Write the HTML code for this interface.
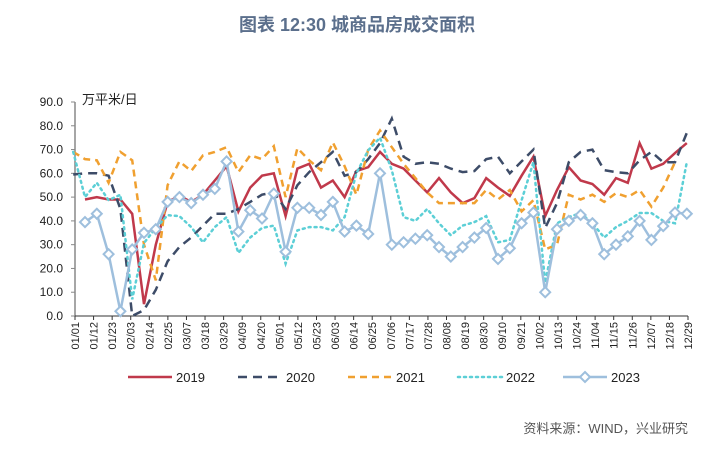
<!DOCTYPE html>
<html><head><meta charset="utf-8"><style>
body{margin:0;background:#fff;}
svg text{font-family:"Liberation Sans","Noto Sans CJK SC",sans-serif;}
</style></head><body>
<svg id="chart" width="713" height="444" xmlns="http://www.w3.org/2000/svg">
<text x="357" y="31" text-anchor="middle" font-size="18" font-weight="bold" fill="#5b6f8c">图表 12:30 城商品房成交面积</text>
<text x="82" y="104" font-size="13" fill="#222">万平米/日</text>
<text x="688" y="433" text-anchor="end" font-size="13" fill="#555">资料来源：WIND，兴业研究</text>
<g id="axes"></g><g id="series"></g><g id="legend"></g>
</svg>
<script>
const xLabels=["01/01","01/12","01/23","02/03","02/14","02/25","03/07","03/18","03/29","04/09","04/20","05/01","05/12","05/23","06/03","06/14","06/25","07/06","07/17","07/28","08/08","08/19","08/30","09/10","09/21","10/02","10/13","10/24","11/04","11/15","11/26","12/07","12/18","12/29"];
const yTicks=[0,10,20,30,40,50,60,70,80,90];
const seriesNames=["2019","2020","2021","2022","2023"];
const s2019=[null,49,50,49,49,43,5,30,48,50.5,48,51,57,63,44,54,59,60,42,62,64,54,57,50,61,62.6,69,64,62,57,52,58,52,47.5,49.6,58,54,50.5,59,67,42,53,62.6,57,55.5,51,58,56,72.7,62,64,68.5,72.7];
const s2020=[59.5,60,60,59,45,0,2.5,11,23,29,33,38,43,43,45,48,51,52,45,55,60.5,64.7,69,59,60.5,66,72.7,83,67,64,64.7,64,62,60.5,61,66,67,60,65,70,37,47.5,64.7,69,70,61.3,60.5,60,65.5,69,64.7,64.7,77];
const s2021=[69,66,65.5,56,69,65.5,30,15,55,65,61,67.6,69,71,60.5,67.6,66,71.4,50,70.6,65.5,61.3,73,63,51,70,78,71,64,58,52,47.5,47.5,47.5,47.5,53,49,53,44,48.7,28,30,51,49,51,48,51.7,50,53,46,54,64.7,null];
const s2022=[69,50,56,48.7,51,7,30.7,37,42.4,42,37.4,31,37.4,41.6,26.5,33,37,38,22,36,37.4,37.4,36,41.6,60,69.7,75,61.3,41.6,40,45,39,34,38,39.5,42,31,32,48.7,64.7,14,39,41.6,43.3,39,33,37.4,40,43.3,43.3,40,39,64.7];
const s2023=[null,39.5,43,26,2,28,35,36.5,48,50,47.5,51,53.5,65,35.5,44.5,41,51.5,27,45.5,45.5,42.5,48,35.5,38,34.5,60,30,31,32.5,34,29,25,29,33,37,24,28.5,39,43.5,10,36.5,40,42.5,39,26,30,33.5,40,32,37.8,43.5,43];
const NS="http://www.w3.org/2000/svg";
const X0=75,X1=688,Y0=316,Y1=102,NPTS=53,PX0=73.2,PXS=11.8;
const yS=v=>Y0-(v/90)*(Y0-Y1);
const xL=i=>X0+i*(X1-X0)/(xLabels.length-1);
const xP=i=>PX0+i*PXS;
function mk(tag,at,parent){const e=document.createElementNS(NS,tag);for(const k in at)e.setAttribute(k,at[k]);parent.appendChild(e);return e;}
const axes=document.getElementById('axes');
let yl=mk('line',{x1:X0,y1:Y1,x2:X0,y2:Y0,stroke:'#888','stroke-width':1.5},axes);


let xl=mk('line',{x1:X0,y1:Y0,x2:X1,y2:Y0,stroke:'#333','stroke-width':1},axes);


yTicks.forEach(v=>{
  mk('line',{x1:X0-4,y1:yS(v),x2:X0,y2:yS(v),stroke:'#888'},axes);
  const t=mk('text',{x:63,y:yS(v)+4,'text-anchor':'end','font-size':12,fill:'#222'},axes);
  t.textContent=v.toFixed(1);
  
  
});
xLabels.forEach((l,i)=>{
  const x=xL(i);
  mk('line',{x1:x,y1:Y0,x2:x,y2:Y0+4,stroke:'#333'},axes);
  const t=mk('text',{x:0,y:0,'text-anchor':'end','font-size':11,fill:'#222',transform:`translate(${x+4},${Y0+6}) rotate(-90)`},axes);
  t.textContent=l;
  
  
});
const styles=[
 {c:'#c0394b',d:'',w:2.5},
 {c:'#3d4c68',d:'9,6',w:2.5},
 {c:'#f0a030',d:'7,5',w:2.5},
 {c:'#5ccfd6',d:'2,4',w:2.5},
 {c:'#9ebfdd',d:'',w:2.5}];
const data=[s2019,s2020,s2021,s2022,s2023];
const sg=document.getElementById('series');
data.forEach((arr,k)=>{
  let d='',pen=false;
  arr.forEach((v,i)=>{if(v==null){return;}d+=(pen?'L':'M')+xP(i).toFixed(1)+','+yS(v).toFixed(1);pen=true;});
  const st=styles[k];
  const p=mk('path',{d:d,fill:'none',stroke:st.c,'stroke-width':st.w,'stroke-dasharray':st.d,'stroke-linecap':k==3?'round':'butt'},sg);
  
  
  if(k==4){arr.forEach((v,i)=>{if(v==null)return;const x=xP(i),y=yS(v);
    const m=mk('polygon',{points:`${x},${y-5} ${x+5},${y} ${x},${y+5} ${x-5},${y}`,fill:'#fff',stroke:st.c,'stroke-width':2},sg);
    
    });}
});
const lg=document.getElementById('legend');
const lx=[128,238,348,458,563];
seriesNames.forEach((n,k)=>{
  const st=styles[k],x=lx[k],y=377;
  const g=mk('g',{},lg);
  
  
  mk('line',{x1:x,y1:y,x2:x+44,y2:y,stroke:st.c,'stroke-width':st.w,'stroke-dasharray':st.d,'stroke-linecap':k==3?'round':'butt'},g);
  if(k==4)mk('polygon',{points:`${x+22},${y-5} ${x+27},${y} ${x+22},${y+5} ${x+17},${y}`,fill:'#fff',stroke:st.c,'stroke-width':2},g);
  const t=mk('text',{x:x+48,y:y+5,'font-size':13,fill:'#222'},g);t.textContent=n;
});
</script>
</body></html>
